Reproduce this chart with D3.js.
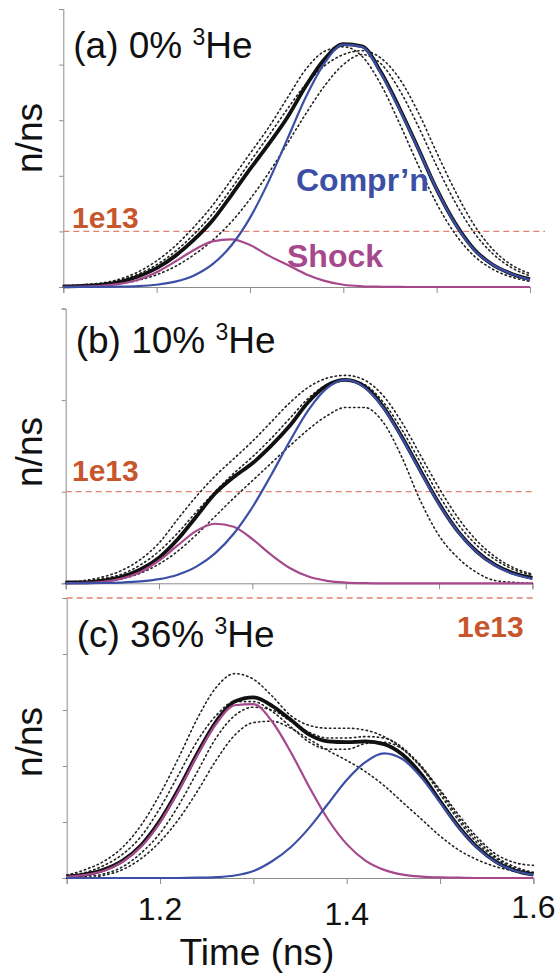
<!DOCTYPE html>
<html>
<head>
<meta charset="utf-8">
<script src="https://cdn.jsdelivr.net/npm/d3@7"></script>
<style>
  html, body { margin: 0; padding: 0; background: #fff; }
  svg { display: block; }
  text { font-family: "Liberation Sans", Arial, sans-serif; }
</style>
</head>
<body>
<svg id="chart" width="556" height="978"></svg>
<script>
// Sample times (ns)
const times = [1.10,1.12,1.14,1.16,1.18,1.20,1.22,1.24,1.26,1.28,1.30,1.32,1.34,1.36,1.38,1.40,1.42,1.44,1.46,1.48,1.50,1.52,1.54,1.56,1.58,1.60];

// Neutron rate, units of 1e13 n/ns
// (a) 0% 3He
const measA  = [0.01,0.02,0.04,0.09,0.19,0.34,0.56,0.85,1.20,1.65,2.12,2.57,3.05,3.62,4.10,4.37,4.33,3.87,3.22,2.50,1.76,1.14,0.68,0.40,0.24,0.14];
const comprA = [0,0.001,0.002,0.006,0.016,0.041,0.096,0.208,0.411,0.747,1.244,1.90,2.66,3.42,4.03,4.36,4.32,3.85,3.20,2.49,1.76,1.13,0.67,0.40,0.24,0.13];
const shockA = [0.0015,0.006,0.019,0.055,0.131,0.267,0.458,0.666,0.821,0.855,0.755,0.564,0.40,0.23,0.11,0.04,0.013,0.004,0.001,0,0,0,0,0,0,0];
const runA1  = [0.02,0.04,0.07,0.14,0.27,0.47,0.74,1.08,1.47,1.93,2.40,2.87,3.40,3.92,4.24,4.32,4.15,3.65,2.95,2.20,1.50,0.95,0.56,0.32,0.18,0.10];
const runA2  = [0,0.01,0.03,0.06,0.12,0.22,0.37,0.58,0.84,1.17,1.58,2.05,2.58,3.12,3.62,4.00,4.18,4.02,3.55,2.90,2.18,1.52,0.98,0.60,0.35,0.20];
const runA3  = [0.02,0.03,0.06,0.12,0.23,0.40,0.64,0.95,1.32,1.77,2.25,2.72,3.20,3.65,3.98,4.18,4.25,4.12,3.75,3.15,2.42,1.72,1.12,0.68,0.40,0.24];

// (b) 10% 3He
const measB  = [0.01,0.01,0.03,0.07,0.15,0.28,0.48,0.73,0.98,1.16,1.31,1.50,1.72,1.98,2.16,2.22,2.15,1.93,1.60,1.23,0.87,0.57,0.35,0.20,0.11,0.06];
const comprB = [0,0.001,0.003,0.008,0.020,0.045,0.094,0.182,0.327,0.541,0.830,1.18,1.55,1.89,2.13,2.22,2.14,1.92,1.59,1.22,0.863,0.566,0.344,0.194,0.101,0.049];
const shockB = [0.001,0.005,0.017,0.051,0.124,0.249,0.414,0.572,0.650,0.617,0.482,0.312,0.167,0.074,0.027,0.008,0.002,0,0,0,0,0,0,0,0,0];
const runB1  = [0.01,0.03,0.07,0.14,0.26,0.44,0.70,0.95,1.17,1.36,1.55,1.76,1.97,2.14,2.24,2.27,2.22,2.05,1.76,1.40,1.04,0.72,0.47,0.29,0.17,0.10];
const runB2  = [0,0.01,0.02,0.05,0.11,0.21,0.35,0.53,0.73,0.93,1.12,1.31,1.50,1.68,1.83,1.92,1.92,1.76,1.38,0.90,0.52,0.28,0.12,0.03,0.01,0];
const runB3  = [0.01,0.02,0.05,0.10,0.20,0.35,0.55,0.78,1.00,1.20,1.38,1.58,1.80,2.02,2.17,2.22,2.17,1.98,1.68,1.32,0.96,0.65,0.42,0.26,0.15,0.09];

// (c) 36% 3He
const measC  = [0.005,0.013,0.03,0.062,0.118,0.205,0.318,0.445,0.558,0.630,0.645,0.615,0.565,0.512,0.488,0.485,0.488,0.478,0.440,0.370,0.275,0.183,0.109,0.058,0.027,0.012];
const comprC = [0,0,0,0,0,0,0,0.001,0.003,0.009,0.025,0.06,0.11,0.18,0.265,0.35,0.414,0.445,0.424,0.359,0.270,0.180,0.107,0.056,0.026,0.011];
const shockC = [0.004,0.011,0.026,0.058,0.113,0.199,0.312,0.438,0.550,0.617,0.621,0.559,0.450,0.324,0.209,0.121,0.062,0.029,0.012,0.005,0.002,0.001,0,0,0,0];
const runC1  = [0.01,0.03,0.06,0.11,0.19,0.30,0.43,0.57,0.68,0.73,0.71,0.65,0.58,0.545,0.535,0.535,0.528,0.505,0.46,0.395,0.315,0.225,0.145,0.085,0.055,0.045];
const runC2  = [0,0,0.01,0.03,0.07,0.13,0.21,0.31,0.42,0.51,0.555,0.56,0.535,0.495,0.455,0.42,0.38,0.33,0.27,0.21,0.15,0.10,0.065,0.04,0.025,0.015];
const runC3  = [0.01,0.02,0.045,0.085,0.15,0.25,0.37,0.49,0.58,0.63,0.63,0.595,0.54,0.485,0.46,0.46,0.48,0.485,0.46,0.40,0.31,0.215,0.135,0.075,0.04,0.02];
const runC4  = [0,0.005,0.015,0.04,0.09,0.16,0.26,0.38,0.50,0.58,0.61,0.60,0.56,0.52,0.50,0.50,0.505,0.50,0.465,0.395,0.30,0.205,0.125,0.07,0.035,0.018];

// Axis ticks
const xTicks = [1.1,1.2,1.3,1.4,1.5,1.6];
const xTickLabels = [1.2,1.4,1.6];
const refLevel = 1; // 1e13 n/ns reference line

const panelDefs = [
  { title: "(a) 0% ", meas: measA, compr: comprA, shock: shockA, runs: [runA1, runA2, runA3],
    yTicks: [0,1,2,3,4,5], ymax: 5 },
  { title: "(b) 10% ", meas: measB, compr: comprB, shock: shockB, runs: [runB1, runB2, runB3],
    yTicks: [0,1,2,3], ymax: 3 },
  { title: "(c) 36% ", meas: measC, compr: comprC, shock: shockC, runs: [runC1, runC2, runC3, runC4],
    yTicks: [0,0.2,0.4,0.6,0.8,1.0], ymax: 1 }
];

// Layout of each panel in pixels
const layout = [
  { left: 63.3, right: 530,   top: 9,     bottom: 287,   refRight: 545, titleY: 58,  nnsY: 138, refLabel: {x: 72,  y: 228} },
  { left: 65.7, right: 532.4, top: 308.5, bottom: 583.3, refRight: 533, titleY: 353, nnsY: 452, refLabel: {x: 72,  y: 481} },
  { left: 66.7, right: 533.4, top: 598,   bottom: 878,   refRight: 533, titleY: 647, nnsY: 742, refLabel: {x: 457, y: 637} }
];
// baseline nudges of the time labels
const tickLabelY = [920, 925, 918];

const colors = {
  meas: "#111",
  compr: "#3c4fa6",
  shock: "#a6488c",
  ref: "#de8470",
  refText: "#c8562c",
  axis: "#8c8c8c"
};

const svg = d3.select("#chart");
svg.append("rect").attr("width", 556).attr("height", 978).attr("fill", "#fff");

panelDefs.forEach((p, i) => {
  const L = layout[i];
  const x = d3.scaleLinear().domain([1.1, 1.6]).range([L.left, L.right]);
  const y = d3.scaleLinear().domain([0, p.ymax]).range([L.bottom, L.top]);
  const g = svg.append("g");

  // axes
  const yAxis = d3.axisLeft(y).tickValues(p.yTicks).tickSize(4).tickFormat("");
  const ga = g.append("g").attr("transform", `translate(${L.left},0)`).call(yAxis);
  const xAxis = d3.axisBottom(x).tickValues(xTicks).tickSize(6).tickSizeOuter(6).tickFormat("");
  const gx = g.append("g").attr("transform", `translate(0,${L.bottom})`).call(xAxis);
  [ga, gx].forEach(a => {
    a.selectAll("path, line").attr("stroke", colors.axis).attr("stroke-width", 1);
  });

  // 1e13 reference line
  g.append("line")
    .attr("x1", L.left).attr("x2", L.refRight)
    .attr("y1", y(refLevel)).attr("y2", y(refLevel))
    .attr("stroke", colors.ref).attr("stroke-width", 1.3)
    .attr("stroke-dasharray", "6,4");

  const line = d3.line()
    .x((d, j) => x(times[j]))
    .y(d => y(d))
    .curve(d3.curveMonotoneX);

  // individual shots (dotted)
  p.runs.forEach(r => {
    g.append("path").attr("d", line(r))
      .attr("fill", "none").attr("stroke", "#222")
      .attr("stroke-width", 1.6).attr("stroke-dasharray", "1.4,3.2")
      .attr("stroke-linecap", "round");
  });

  // measured average
  g.append("path").attr("d", line(p.meas))
    .attr("fill", "none").attr("stroke", colors.meas).attr("stroke-width", 3.8)
    .attr("stroke-linejoin", "round");

  // shock component
  g.append("path").attr("d", line(p.shock))
    .attr("fill", "none").attr("stroke", colors.shock).attr("stroke-width", 2.2);

  // compression component
  g.append("path").attr("d", line(p.compr))
    .attr("fill", "none").attr("stroke", colors.compr).attr("stroke-width", 2.2);

  // panel title
  const t = g.append("text").attr("x", L.left + 10).attr("y", L.titleY)
    .attr("font-size", 37).attr("fill", "#111");
  t.append("tspan").text(p.title);
  t.append("tspan").attr("font-size", 23).attr("dy", -13).text("3");
  t.append("tspan").attr("dy", 13).text("He");

  // y label
  g.append("text")
    .attr("transform", `translate(42,${L.nnsY}) rotate(-90)`)
    .attr("text-anchor", "middle").attr("font-size", 37).attr("fill", "#111")
    .text("n/ns");

  // reference label
  g.append("text").attr("x", L.refLabel.x).attr("y", L.refLabel.y)
    .attr("font-size", 30).attr("font-weight", "bold").attr("fill", colors.refText)
    .text("1e13");

  if (i === 0) {
    g.append("text").attr("x", 296).attr("y", 191)
      .attr("font-size", 32).attr("font-weight", "bold").attr("fill", colors.compr)
      .text("Compr\u2019n");
    g.append("text").attr("x", 287).attr("y", 267)
      .attr("font-size", 32).attr("font-weight", "bold").attr("fill", colors.shock)
      .text("Shock");
  }

  if (i === 2) {
    // time tick labels
    g.selectAll("text.tick-label").data(xTickLabels).enter().append("text")
      .attr("class", "tick-label")
      .attr("x", d => x(d)).attr("y", (d, k) => tickLabelY[k])
      .attr("text-anchor", "middle").attr("font-size", 32).attr("fill", "#111")
      .text(d => d3.format(".1f")(d));
    g.append("text").attr("x", 257).attr("y", 965)
      .attr("text-anchor", "middle").attr("font-size", 37).attr("fill", "#111")
      .text("Time (ns)");
  }
});
</script>
</body>
</html>
